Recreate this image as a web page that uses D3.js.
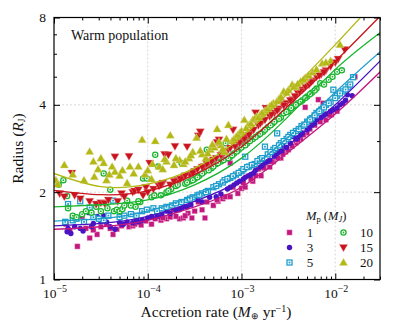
<!DOCTYPE html>
<html><head><meta charset="utf-8">
<script src="https://cdn.jsdelivr.net/npm/d3@7"></script>
<style>
body{margin:0;background:#fff}
svg{display:block}
text{font-family:"Liberation Serif","Times New Roman",serif;fill:#111}
</style>
</head><body>
<script>
// ---------- data (x values are log10 of accretion rate in M_earth/yr, y = radius in R_J) ----------
const xDomain = [1e-5, 3e-2];
const yDomain = [1, 8];
const xTickExps = [-5, -4, -3, -2];
const yTickValues = [1, 2, 4, 8];
const yMinorValues = [3, 5, 6, 7];
const massLabels = ["1", "3", "5", "10", "15", "20"];
const seriesColors = ["#c2187f", "#4a14c4", "#1e9dcc", "#1bb52e", "#c8141e", "#b3b814"];

const pts1 = [[-4.87,1.55],[-4.83,1.47],[-4.75,1.30],[-4.70,1.65],[-4.66,1.50],[-4.62,1.39],[-4.54,1.43],[-4.50,1.52],[-4.44,1.55],[-4.37,1.43],[-4.33,1.49],[-4.28,1.53],[-4.20,1.52],[-4.16,1.53],[-4.10,1.57],[-4.07,1.54],[-4.02,1.59],[-3.96,1.55],[-3.92,1.62],[-3.86,1.60],[-3.80,1.62],[-3.76,1.64],[-3.73,1.74],[-3.66,1.62],[-3.62,1.63],[-3.57,1.69],[-3.53,1.63],[-3.50,1.72],[-3.46,1.85],[-3.39,1.63],[-3.37,1.85],[-3.30,1.80],[-3.25,1.86],[-3.20,1.90],[-3.17,1.93],[-3.12,1.93],[-3.12,2.52],[-3.09,2.08],[-3.04,1.98],[-3.00,2.06],[-2.96,2.08],[-2.93,2.27],[-2.88,2.18],[-2.85,2.28],[-2.82,2.40],[-2.79,2.28],[-2.74,2.52],[-2.70,2.44],[-2.66,2.55],[-2.62,2.76],[-2.58,2.62],[-2.53,2.75],[-2.50,2.80],[-2.44,3.97],[-2.42,2.96],[-2.37,3.05],[-2.32,3.92],[-2.30,3.20],[-2.25,3.41],[-2.22,3.40],[-2.18,4.17],[-2.13,4.05],[-2.10,3.55],[-2.04,3.70],[-1.98,3.80],[-1.79,5.00],
  [-2.98,2.15],[-2.90,2.22],[-2.76,2.42],[-2.68,2.55],[-2.56,2.70],[-2.46,2.88],[-2.34,3.15],[-2.27,3.30],[-2.16,3.50],[-2.06,3.68],[-3.26,1.88],[-3.42,1.74],[-3.60,1.66],[-3.70,1.65],[-3.84,1.63],[-4.14,1.55],[-4.40,1.50],[-4.58,1.48],[-2.61,2.62],[-2.40,3.02]];
const pts3 = [[-4.86,1.46],[-4.85,1.50],[-4.82,1.44],[-4.78,1.52],[-4.72,1.50],[-4.69,1.47],[-4.63,1.70],[-4.58,1.56],[-4.54,1.65],[-4.50,1.58],[-4.47,1.66],[-4.44,1.58],[-4.40,1.52],[-4.35,1.49],[-4.30,1.57],[-4.28,1.55],[-4.22,1.58],[-4.16,1.57],[-4.12,1.60],[-4.06,1.60],[-4.00,1.63],[-3.96,1.65],[-3.90,1.65],[-3.85,1.68],[-3.80,1.72],[-3.76,1.69],[-3.70,1.73],[-3.64,1.76],[-3.58,1.78],[-3.54,1.81],[-3.47,1.88],[-3.42,1.85],[-3.34,1.92],[-3.27,1.93],[-3.22,1.97],[-3.15,2.05],[-3.08,2.12],[-3.02,2.18],[-2.96,2.25],[-2.90,2.30],[-2.85,2.38],[-2.80,2.44],[-2.75,2.52],[-2.70,2.58],[-2.65,2.66],[-2.60,2.75],[-2.56,2.90],[-2.52,2.85],[-2.45,3.11],[-2.40,3.08],[-2.35,3.20],[-2.30,3.28],[-2.25,3.40],[-2.20,3.55],[-2.15,3.62],[-2.10,3.72],[-2.05,3.80],[-1.98,3.90],[-1.92,4.05],[-1.87,4.33],[-1.82,4.30],
  [-3.12,2.08],[-3.05,2.15],[-2.98,2.22],[-2.92,2.28],[-2.87,2.33],[-2.78,2.47],[-2.72,2.55],[-2.62,2.72],[-2.57,2.78],[-2.48,2.95],[-2.42,3.05],[-2.37,3.15],[-2.28,3.33],[-2.22,3.45],[-2.12,3.68],[-2.02,3.85],[-1.95,4.00],[-1.89,4.15],[-3.60,1.78],[-3.66,1.74],[-3.88,1.66],[-4.10,1.58],[-4.26,1.55],[-4.60,1.52]];
const pts5 = [[-4.88,1.58],[-4.85,1.82],[-4.80,1.60],[-4.76,1.62],[-4.72,1.86],[-4.68,1.58],[-4.62,1.77],[-4.58,1.64],[-4.52,1.62],[-4.47,1.60],[-4.42,1.66],[-4.37,1.87],[-4.30,1.64],[-4.25,1.66],[-4.18,1.68],[-4.12,1.66],[-4.06,1.72],[-4.01,1.74],[-3.94,1.76],[-3.90,1.72],[-3.85,1.76],[-3.80,1.78],[-3.74,1.80],[-3.70,1.83],[-3.64,1.85],[-3.58,1.88],[-3.52,1.92],[-3.47,1.95],[-3.42,1.98],[-3.36,2.02],[-3.30,2.08],[-3.24,2.13],[-3.18,2.20],[-3.12,2.24],[-3.06,2.30],[-3.00,2.36],[-2.96,2.65],[-2.92,2.45],[-2.86,2.50],[-2.80,2.60],[-2.75,2.87],[-2.72,2.70],[-2.66,2.80],[-2.62,3.19],[-2.58,2.95],[-2.52,3.05],[-2.48,3.15],[-2.42,3.25],[-2.36,3.38],[-2.30,3.50],[-2.25,3.60],[-2.20,3.75],[-2.15,3.85],[-2.10,4.00],[-2.05,4.10],[-2.02,4.51],[-1.98,4.30],[-1.92,4.45],[-1.86,4.62],[-1.81,4.98],
  [-3.27,2.10],[-3.20,2.16],[-3.15,2.22],[-3.09,2.27],[-3.03,2.33],[-2.98,2.40],[-2.94,2.44],[-2.89,2.48],[-2.83,2.56],[-2.78,2.62],[-2.69,2.75],[-2.64,2.84],[-2.60,2.90],[-2.55,3.00],[-2.50,3.10],[-2.45,3.20],[-2.39,3.30],[-2.33,3.42],[-2.27,3.56],[-2.22,3.68],[-2.17,3.80],[-2.12,3.92],[-2.07,4.05],[-2.00,4.22],[-1.95,4.38],[-1.89,4.52],[-1.84,4.70],[-3.55,1.90],[-3.45,1.96],[-3.38,2.00]];
const pts10 = [[-4.95,2.12],[-4.90,2.20],[-4.86,1.94],[-4.85,1.76],[-4.80,1.66],[-4.76,1.64],[-4.70,1.68],[-4.66,1.72],[-4.60,1.70],[-4.55,1.78],[-4.50,1.72],[-4.47,2.32],[-4.43,1.76],[-4.40,2.04],[-4.36,1.72],[-4.33,1.74],[-4.30,1.72],[-4.27,1.75],[-4.22,1.87],[-4.18,1.80],[-4.13,1.78],[-4.08,1.85],[-4.05,2.23],[-4.01,2.23],[-3.96,1.92],[-3.92,2.69],[-3.89,2.45],[-3.86,1.95],[-3.80,2.00],[-3.75,2.05],[-3.70,2.10],[-3.64,2.52],[-3.60,2.14],[-3.55,2.18],[-3.50,2.22],[-3.45,2.28],[-3.40,2.35],[-3.37,2.80],[-3.32,2.42],[-3.27,2.50],[-3.22,2.55],[-3.17,2.95],[-3.12,2.65],[-3.08,2.72],[-3.03,2.80],[-2.98,3.03],[-2.94,2.95],[-2.88,3.05],[-2.82,3.15],[-2.77,3.23],[-2.72,3.35],[-2.67,3.45],[-2.63,3.55],[-2.58,3.62],[-2.55,3.74],[-2.50,3.80],[-2.45,3.95],[-2.40,4.05],[-2.35,4.15],[-2.30,4.27],[-2.25,4.40],[-2.20,4.55],[-2.16,4.75],[-2.07,4.88],[-1.98,5.20],[-1.93,5.26],
  [-3.58,2.16],[-3.52,2.20],[-3.47,2.25],[-3.42,2.32],[-3.35,2.38],[-3.30,2.45],[-3.25,2.52],[-3.19,2.58],[-3.14,2.62],[-3.10,2.68],[-3.05,2.76],[-3.00,2.85],[-2.96,2.90],[-2.91,3.00],[-2.85,3.10],[-2.80,3.18],[-2.75,3.28],[-2.69,3.40],[-2.65,3.50],[-2.60,3.58],[-2.52,3.78],[-2.47,3.90],[-2.42,4.00],[-2.37,4.10],[-2.32,4.22],[-2.27,4.35],[-2.22,4.48],[-2.12,4.70],[-2.03,5.00],[-3.68,2.12],[-3.78,2.02],[-3.93,1.95],[-4.10,1.86],[-4.25,1.80]];
const pts15 = [[-4.94,1.98],[-4.89,1.93],[-4.81,2.33],[-4.78,1.95],[-4.72,1.90],[-4.62,1.86],[-4.55,1.82],[-4.50,1.84],[-4.46,1.83],[-4.42,1.88],[-4.35,2.65],[-4.32,1.86],[-4.28,1.98],[-4.20,2.66],[-4.16,2.00],[-4.14,2.02],[-4.10,2.04],[-4.05,1.95],[-4.02,2.08],[-3.98,2.52],[-3.94,2.05],[-3.88,2.10],[-3.84,2.15],[-3.82,2.70],[-3.78,2.69],[-3.76,2.12],[-3.71,2.88],[-3.68,2.20],[-3.62,2.25],[-3.58,2.87],[-3.55,2.30],[-3.50,2.36],[-3.46,3.13],[-3.44,3.23],[-3.40,2.45],[-3.35,2.52],[-3.30,2.58],[-3.26,2.97],[-3.24,3.03],[-3.20,2.70],[-3.15,2.78],[-3.09,3.28],[-3.05,2.92],[-3.00,3.00],[-2.95,3.10],[-2.90,3.22],[-2.85,3.76],[-2.82,3.40],[-2.78,3.50],[-2.74,3.90],[-2.70,3.65],[-2.65,3.75],[-2.60,3.88],[-2.57,4.06],[-2.52,4.05],[-2.45,4.17],[-2.40,4.40],[-2.35,4.52],[-2.32,4.63],[-2.28,4.70],[-2.24,4.85],[-2.20,5.00],[-2.15,5.10],[-2.10,5.25],[-2.05,5.43],[-1.90,6.20],
  [-3.86,2.12],[-3.72,2.18],[-3.65,2.22],[-3.60,2.28],[-3.52,2.33],[-3.47,2.40],[-3.42,2.44],[-3.37,2.50],[-3.32,2.55],[-3.27,2.62],[-3.22,2.68],[-3.18,2.74],[-3.12,2.84],[-3.07,2.88],[-3.02,2.96],[-2.97,3.05],[-2.92,3.15],[-2.87,3.28],[-2.80,3.45],[-2.75,3.55],[-2.68,3.70],[-2.62,3.82],[-2.55,3.98],[-2.48,4.15],[-2.43,4.28],[-2.38,4.45],[-2.26,4.78],[-2.17,5.05],[-2.12,5.18],[-2.00,5.60],[-1.97,5.75],[-4.00,2.00],[-4.25,1.93]];
const pts20 = [[-4.98,2.20],[-4.96,2.13],[-4.89,2.48],[-4.80,2.30],[-4.68,2.20],[-4.62,2.76],[-4.58,2.55],[-4.57,2.26],[-4.53,2.40],[-4.50,2.62],[-4.47,2.52],[-4.44,2.20],[-4.41,2.30],[-4.38,2.45],[-4.35,2.35],[-4.30,2.28],[-4.27,2.38],[-4.22,2.15],[-4.19,2.45],[-4.15,2.32],[-4.10,2.45],[-4.06,3.03],[-4.03,2.30],[-4.00,2.38],[-3.96,2.22],[-3.92,3.00],[-3.88,2.45],[-3.84,2.40],[-3.80,2.55],[-3.76,3.14],[-3.72,2.48],[-3.66,2.58],[-3.62,2.50],[-3.56,2.62],[-3.52,2.75],[-3.48,3.08],[-3.42,2.70],[-3.38,2.62],[-3.33,2.80],[-3.29,2.85],[-3.26,3.30],[-3.22,2.90],[-3.18,2.75],[-3.14,3.41],[-3.10,3.00],[-3.06,3.10],[-3.02,3.20],[-2.97,3.55],[-2.93,3.40],[-2.88,3.55],[-2.84,3.64],[-2.80,3.70],[-2.75,3.82],[-2.70,3.95],[-2.66,4.05],[-2.60,4.20],[-2.55,4.45],[-2.50,4.50],[-2.46,4.69],[-2.42,4.60],[-2.37,4.81],[-2.32,4.95],[-2.28,5.05],[-2.14,5.55],[-2.05,5.67],[-1.95,6.45],
  [-3.60,2.55],[-3.54,2.68],[-3.44,2.78],[-3.36,2.72],[-3.31,2.92],[-3.24,2.98],[-3.20,2.82],[-3.16,3.05],[-3.08,3.05],[-3.04,3.15],[-3.00,3.25],[-2.95,3.32],[-2.90,3.45],[-2.86,3.58],[-2.82,3.62],[-2.78,3.75],[-2.72,3.88],[-2.68,4.00],[-2.62,4.12],[-2.58,4.25],[-2.52,4.40],[-2.44,4.62],[-2.40,4.72],[-2.34,4.88],[-2.24,5.18],[-2.20,5.30],[-2.10,5.60],[-3.70,2.62],[-3.82,2.60],[-3.95,2.50]];

// fitted curves: radius at given log10 accretion rates
const fitLogRate = [-5, -4.5, -4, -3.5, -3, -2.5, -2, -1.52];
const fit1  = [1.49, 1.52, 1.60, 1.78, 2.08, 2.75, 3.72, 5.2];
const fit3  = [1.53, 1.56, 1.65, 1.86, 2.20, 2.90, 4.00, 5.67];
const fit5  = [1.59, 1.62, 1.72, 1.95, 2.32, 3.10, 4.42, 6.1];
const fit10 = [1.78, 1.81, 1.88, 2.12, 2.62, 3.65, 5.30, 7.1];
const fit15 = [2.03, 1.96, 2.02, 2.30, 2.87, 3.97, 5.65, 8.1];
const fit20 = [2.32, 2.09, 2.13, 2.42, 3.10, 4.40, 6.45, 9.5];

const allPts = [pts1, pts3, pts5, pts10, pts15, pts20];
const allFits = [fit1, fit3, fit5, fit10, fit15, fit20];
const markerKinds = ["square", "circle", "hsquare", "hcircle", "tridown", "triup"];

// ---------- layout ----------
const W = 407, H = 329;
const m = {l: 54, r: 380, t: 17.5, b: 279.5};
const svg = d3.select("body").append("svg").attr("width", W).attr("height", H);
const x = d3.scaleLog().domain(xDomain).range([m.l, m.r]);
const y = d3.scaleLog().domain(yDomain).range([m.b, m.t]);

svg.append("clipPath").attr("id", "clip").append("rect")
  .attr("x", m.l).attr("y", m.t).attr("width", m.r - m.l).attr("height", m.b - m.t);

// grid
const grid = svg.append("g").attr("stroke", "#cfcfcf").attr("stroke-width", 0.8).attr("stroke-dasharray", "2,2");
xTickExps.slice(1).forEach(e => grid.append("line").attr("x1", x(10 ** e)).attr("x2", x(10 ** e)).attr("y1", m.t).attr("y2", m.b));
yTickValues.filter(v => v > 1 && v < 8).forEach(v => grid.append("line").attr("x1", m.l).attr("x2", m.r).attr("y1", y(v)).attr("y2", y(v)));

// markers
function drawMarker(g, kind, color, cx, cy, s) {
  if (kind === "square") {
    g.append("rect").attr("x", cx - 2.6 * s).attr("y", cy - 2.6 * s).attr("width", 5.2 * s).attr("height", 5.2 * s)
      .attr("fill", color).attr("stroke", "#e9a8cc").attr("stroke-width", 0.5);
  } else if (kind === "circle") {
    g.append("circle").attr("cx", cx).attr("cy", cy).attr("r", 2.7 * s).attr("fill", color);
  } else if (kind === "hsquare") {
    g.append("rect").attr("x", cx - 2.5 * s).attr("y", cy - 2.5 * s).attr("width", 5 * s).attr("height", 5 * s)
      .attr("fill", "#ffffff").attr("stroke", color).attr("stroke-width", 1.3);
    g.append("rect").attr("x", cx - 0.9 * s).attr("y", cy - 0.9 * s).attr("width", 1.8 * s).attr("height", 1.8 * s).attr("fill", color);
  } else if (kind === "hcircle") {
    g.append("circle").attr("cx", cx).attr("cy", cy).attr("r", 2.6 * s).attr("fill", "#ffffff").attr("stroke", color).attr("stroke-width", 1.3);
    g.append("circle").attr("cx", cx).attr("cy", cy).attr("r", 0.9 * s).attr("fill", color);
  } else {
    const sym = d3.symbol().type(d3.symbolTriangle).size(30 * s * s);
    g.append("path").attr("d", sym()).attr("fill", color).attr("stroke", kind === "tridown" ? "#ee9a9a" : "#dede9a").attr("stroke-width", 0.4)
      .attr("transform", `translate(${cx},${cy + (kind === "tridown" ? -0.6 : 0.6)}) rotate(${kind === "tridown" ? 180 : 0})`);
  }
}

const plotG = svg.append("g").attr("clip-path", "url(#clip)");
allPts.forEach((pts, i) => {
  const g = plotG.append("g");
  pts.forEach(p => drawMarker(g, markerKinds[i], seriesColors[i], x(10 ** p[0]), y(p[1]), 1));
});

// fitted lines
const line = d3.line().x(d => x(10 ** d[0])).y(d => y(d[1])).curve(d3.curveNatural);
allFits.forEach((f, i) => {
  plotG.append("path").datum(fitLogRate.map((lr, j) => [lr, f[j]]))
    .attr("d", line).attr("fill", "none").attr("stroke", seriesColors[i]).attr("stroke-width", 1.3);
});

// axes (ticks inward on all four sides)
const majorX = xTickExps.map(e => 10 ** e);
const minorX = [];
xTickExps.forEach(e => { for (let k = 2; k <= 9; k++) { const v = k * 10 ** e; if (v <= xDomain[1]) minorX.push(v); } });
function styleAxis(g) { g.select(".domain").remove(); g.selectAll("line").attr("stroke", "#000").attr("stroke-width", 1); }
svg.append("g").attr("transform", `translate(0,${m.b})`).call(d3.axisBottom(x).tickValues(majorX).tickSizeInner(-6).tickSizeOuter(0).tickFormat("")).call(styleAxis);
svg.append("g").attr("transform", `translate(0,${m.b})`).call(d3.axisBottom(x).tickValues(minorX).tickSizeInner(-3).tickSizeOuter(0).tickFormat("")).call(styleAxis);
svg.append("g").attr("transform", `translate(0,${m.t})`).call(d3.axisTop(x).tickValues(majorX).tickSizeInner(-6).tickSizeOuter(0).tickFormat("")).call(styleAxis);
svg.append("g").attr("transform", `translate(0,${m.t})`).call(d3.axisTop(x).tickValues(minorX).tickSizeInner(-3).tickSizeOuter(0).tickFormat("")).call(styleAxis);
svg.append("g").attr("transform", `translate(${m.l},0)`).call(d3.axisLeft(y).tickValues(yTickValues).tickSizeInner(-6).tickSizeOuter(0).tickFormat("")).call(styleAxis);
svg.append("g").attr("transform", `translate(${m.l},0)`).call(d3.axisLeft(y).tickValues(yMinorValues).tickSizeInner(-3).tickSizeOuter(0).tickFormat("")).call(styleAxis);
svg.append("g").attr("transform", `translate(${m.r},0)`).call(d3.axisRight(y).tickValues(yTickValues).tickSizeInner(-6).tickSizeOuter(0).tickFormat("")).call(styleAxis);
svg.append("g").attr("transform", `translate(${m.r},0)`).call(d3.axisRight(y).tickValues(yMinorValues).tickSizeInner(-3).tickSizeOuter(0).tickFormat("")).call(styleAxis);

svg.append("rect").attr("x", m.l).attr("y", m.t).attr("width", m.r - m.l).attr("height", m.b - m.t)
  .attr("fill", "none").attr("stroke", "#000").attr("stroke-width", 1.2);

// tick labels
xTickExps.forEach(e => {
  const t = svg.append("text").attr("x", x(10 ** e) + 1).attr("y", 297.5).attr("text-anchor", "middle").attr("font-size", 13.5);
  t.append("tspan").text("10");
  t.append("tspan").attr("dy", -5.5).attr("font-size", 10).text("\u2212" + Math.abs(e));
});
yTickValues.forEach(v => {
  svg.append("text").attr("x", 46).attr("y", y(v) + 4.5).attr("text-anchor", "end").attr("font-size", 13.5).text(v);
});

// axis titles
const xt = svg.append("text").attr("x", 216).attr("y", 317).attr("text-anchor", "middle").attr("font-size", 15.5);
xt.append("tspan").text("Accretion rate (");
xt.append("tspan").attr("font-style", "italic").text("M");
xt.append("tspan").attr("font-size", 8.5).attr("dy", 2).text("\u2295");
xt.append("tspan").attr("dy", -2).text(" yr");
xt.append("tspan").attr("font-size", 10).attr("dy", -5.5).text("\u22121");
xt.append("tspan").attr("dy", 5.5).text(")");

const yt = svg.append("text").attr("transform", "translate(23,148.5) rotate(-90)").attr("text-anchor", "middle").attr("font-size", 15.5);
yt.append("tspan").text("Radius (");
yt.append("tspan").attr("font-style", "italic").text("R");
yt.append("tspan").attr("font-size", 9.5).attr("dy", 2).text("J");
yt.append("tspan").attr("dy", -2).text(")");

// annotation
svg.append("text").attr("x", 71).attr("y", 40).attr("font-size", 14).text("Warm population");

// legend
const lt = svg.append("text").attr("x", 306).attr("y", 220).attr("font-size", 12.5);
lt.append("tspan").attr("font-style", "italic").text("M");
lt.append("tspan").attr("font-size", 8.5).attr("dy", 2).text("p");
lt.append("tspan").attr("dy", -2).text(" (");
lt.append("tspan").attr("font-style", "italic").text("M");
lt.append("tspan").attr("font-size", 8.5).attr("dy", 2).attr("font-style", "italic").text("J");
lt.append("tspan").attr("dy", -2).text(")");
const legG = svg.append("g");
massLabels.forEach((lab, i) => {
  const col = Math.floor(i / 3), row = i % 3;
  const mx = col === 0 ? 289.5 : 343.5, my = 232.5 + row * 15;
  drawMarker(legG, markerKinds[i], seriesColors[i], mx, my, 1);
  svg.append("text").attr("x", col === 0 ? 310 : 366.5).attr("y", my + 4.5).attr("text-anchor", "middle").attr("font-size", 13).text(lab);
});
</script>
</body></html>
